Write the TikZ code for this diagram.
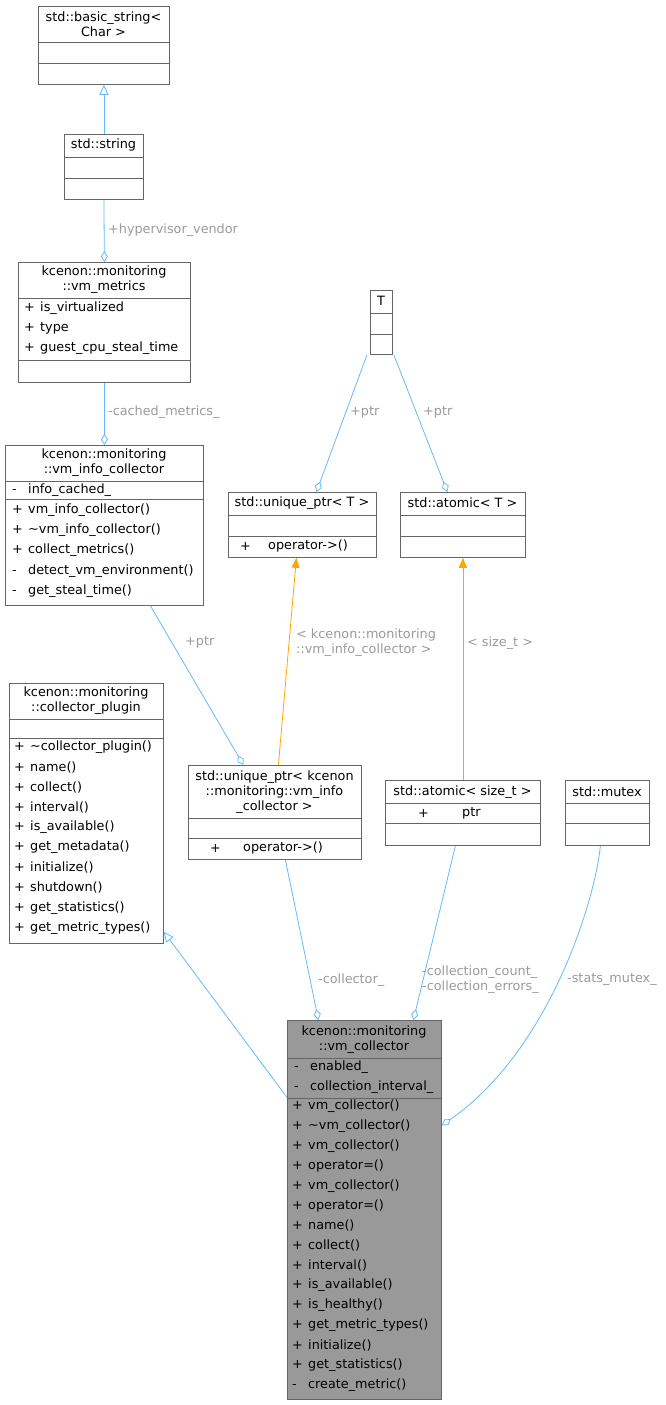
\documentclass[tikz,border=0pt]{standalone}
\usepackage{fontspec}
\setmainfont{DejaVu Sans}
\usetikzlibrary{arrows.meta}
\definecolor{edgeblue}{HTML}{63B8FF}
\definecolor{tmplorange}{HTML}{FFA500}
\definecolor{lblgray}{HTML}{9A9A9A}
\definecolor{boxgray}{HTML}{666666}
\definecolor{mainfill}{HTML}{999999}
\tikzset{
  cls/.style={draw=boxgray, line width=0.8pt, rectangle, inner sep=0pt, anchor=north west, fill=white},
  sep/.style={draw=boxgray, line width=0.8pt},
  mem/.style={anchor=west, inner sep=0pt},
  hdr/.style={align=center, inner sep=0pt},
  lbl/.style={text=lblgray, anchor=west, inner sep=0pt, align=left},
  comp/.style={draw=edgeblue, line width=0.8pt, -{Diamond[open,length=11pt,width=7pt]}},
  inh/.style={draw=edgeblue, line width=0.8pt, -{Triangle[open,length=10pt,width=9pt]}},
  tmpl/.style={draw=tmplorange, line width=0.8pt, -{Triangle[length=10pt,width=8pt,fill=tmplorange]}}
}
\newcommand{\sgn}[1]{\makebox[16pt][l]{#1}}
\begin{document}
\begin{tikzpicture}[x=1pt, y=-1pt, font=\fontsize{12.8}{15}\selectfont]
  \useasboundingbox (0,0) rectangle (665,1405);
  % std::basic_string
  \node[cls, minimum width=131pt, minimum height=78pt] (bs) at (38,6) {};
  \node[hdr] (bs-h) at (103.5,24) {std::basic\_string<\\Char >};
  \draw[sep] (38,42) -- (169,42) (38,63) -- (169,63);
  % std::string
  \node[cls, minimum width=79pt, minimum height=65pt] (str) at (64,134) {};
  \node[hdr] (str-h) at (103.5,145) {std::string};
  \draw[sep] (64,157) -- (143,157) (64,178) -- (143,178);
  % vm_metrics
  \node[cls, minimum width=172pt, minimum height=120pt] (vmm) at (18,262) {};
  \node[hdr] (vmm-h) at (104,280) {kcenon::monitoring\\::vm\_metrics};
  \draw[sep] (18,298) -- (190,298) (18,360) -- (190,360);
  \foreach \t [count=\i] in {is\_virtualized, type, guest\_cpu\_steal\_time}
    \node[mem] (vmm-a\i) at (24,{288+20*\i}) {\sgn{+}\t};
  % vm_info_collector
  \node[cls, minimum width=198pt, minimum height=160pt] (vic) at (5,445) {};
  \node[hdr] (vic-h) at (104,463) {kcenon::monitoring\\::vm\_info\_collector};
  \draw[sep] (5,481) -- (203,481) (5,499) -- (203,499);
  \node[mem] (vic-a1) at (12,490) {\sgn{-}info\_cached\_};
  \foreach \s/\t [count=\i] in {+/vm\_info\_collector(), +/\textasciitilde{}vm\_info\_collector(),
      +/collect\_metrics(), -/detect\_vm\_environment(), -/get\_steal\_time()}
    \node[mem] (vic-m\i) at (12,{489.5+20.3*\i}) {\sgn{\s}\t};
  % T
  \node[cls, minimum width=22pt, minimum height=64pt] (T) at (370,290) {};
  \node[hdr] (T-h) at (381,301) {T};
  \draw[sep] (370,313) -- (392,313) (370,334) -- (392,334);
  % std::unique_ptr< T >
  \node[cls, minimum width=148pt, minimum height=65pt] (upT) at (228,492) {};
  \node[hdr] (upT-h) at (302,503) {std::unique\_ptr< T >};
  \draw[sep] (228,515) -- (376,515) (228,536) -- (376,536);
  \node[mem] (upT-s) at (240,546) {+};
  \node[mem] (upT-m1) at (268,546) {operator->()};
  % std::atomic< T >
  \node[cls, minimum width=125pt, minimum height=65pt] (atT) at (400,492) {};
  \node[hdr] (atT-h) at (462.5,503) {std::atomic< T >};
  \draw[sep] (400,515) -- (525,515) (400,536) -- (525,536);
  % collector_plugin
  \node[cls, minimum width=154pt, minimum height=260pt] (cp) at (9,683) {};
  \node[hdr] (cp-h) at (86,701) {kcenon::monitoring\\::collector\_plugin};
  \draw[sep] (9,719) -- (163,719) (9,738) -- (163,738);
  \foreach \t [count=\i] in {\textasciitilde{}collector\_plugin(), name(), collect(), interval(),
      is\_available(), get\_metadata(), initialize(), shutdown(), get\_statistics(), get\_metric\_types()}
    \node[mem] (cp-m\i) at (14,{727+20.1*\i}) {\sgn{+}\t};
  % std::unique_ptr< vm_info_collector >
  \node[cls, minimum width=173pt, minimum height=94pt] (upv) at (188,765) {};
  \node[hdr] (upv-h) at (274.5,792) {std::unique\_ptr< kcenon\\::monitoring::vm\_info\\\_collector >};
  \draw[sep] (188,818) -- (361,818) (188,838) -- (361,838);
  \node[mem] (upv-s) at (210,848) {+};
  \node[mem] (upv-m1) at (243,848) {operator->()};
  % std::atomic< size_t >
  \node[cls, minimum width=155pt, minimum height=65pt] (ats) at (385,780) {};
  \node[hdr] (ats-h) at (462.5,792) {std::atomic< size\_t >};
  \draw[sep] (385,803) -- (540,803) (385,823) -- (540,823);
  \node[mem] (ats-s) at (418,813) {+};
  \node[mem] (ats-a1) at (462,813) {ptr};
  % std::mutex
  \node[cls, minimum width=84pt, minimum height=65pt] (mtx) at (565,780) {};
  \node[hdr] (mtx-h) at (607,792) {std::mutex};
  \draw[sep] (565,803) -- (649,803) (565,823) -- (649,823);
  % vm_collector
  \node[cls, fill=mainfill, minimum width=154pt, minimum height=379pt] (vmc) at (287,1020) {};
  \node[hdr] (vmc-h) at (364,1039.5) {kcenon::monitoring\\::vm\_collector};
  \draw[sep] (287,1058) -- (441,1058) (287,1098) -- (441,1098);
  \node[mem] (vmc-a1) at (294,1067) {\sgn{-}enabled\_};
  \node[mem] (vmc-a2) at (294,1087) {\sgn{-}collection\_interval\_};
  \foreach \s/\t [count=\i] in {+/vm\_collector(), +/\textasciitilde{}vm\_collector(), +/vm\_collector(),
      +/operator=(), +/vm\_collector(), +/operator=(), +/name(), +/collect(), +/interval(),
      +/is\_available(), +/is\_healthy(), +/get\_metric\_types(), +/initialize(),
      +/get\_statistics(), -/create\_metric()}
    \node[mem] (vmc-m\i) at (292,{1086+19.95*\i}) {\sgn{\s}\t};
  % connectors
  \draw[inh] (str.north) -- (bs.south);
  \draw[comp] (str.south) -- (vmm.north);
  \draw[comp] (vmm.south) -- (vic.north);
  \draw[comp] ([xshift=-3pt]T.south west) -- ([xshift=14pt]upT.north);
  \draw[comp] ([xshift=1pt]T.south east) -- ([xshift=-15.5pt]atT.north);
  \draw[comp] ([xshift=46pt]vic.south) -- ([xshift=-31.5pt]upv.north);
  \draw[tmpl] ([xshift=3.5pt]upv.north) -- ([xshift=-6pt]upT.south);
  \draw[tmpl] (ats.north) -- (atT.south);
  \draw[inh] ([yshift=112.5pt]vmc.west) -- ([yshift=12pt]cp.south east);
  \draw[comp] ([xshift=10.5pt]upv.south) -- ([xshift=-46pt]vmc.north);
  \draw[comp] ([xshift=-7.5pt]ats.south) -- ([xshift=49pt]vmc.north);
  \draw[comp] ([xshift=-7pt]mtx.south) .. controls (595,900) and (550,1050) .. ([yshift=84.5pt]vmc.east);
  % labels
  \node[lbl] (l-hv) at (108,230) {+hypervisor\_vendor};
  \node[lbl] (l-cm) at (108,412) {-cached\_metrics\_};
  \node[lbl] (l-p1) at (350,412) {+ptr};
  \node[lbl] (l-p2) at (423,412) {+ptr};
  \node[lbl] (l-p3) at (185,642) {+ptr};
  \node[lbl] (l-t1) at (296,643) {< kcenon::monitoring\\::vm\_info\_collector >};
  \node[lbl] (l-t2) at (467,643) {< size\_t >};
  \node[lbl] (l-co) at (318,980) {-collector\_};
  \node[lbl] (l-cc) at (422,980) {-collection\_count\_\\-collection\_errors\_};
  \node[lbl] (l-sm) at (567,980) {-stats\_mutex\_};
\end{tikzpicture}
\end{document}
